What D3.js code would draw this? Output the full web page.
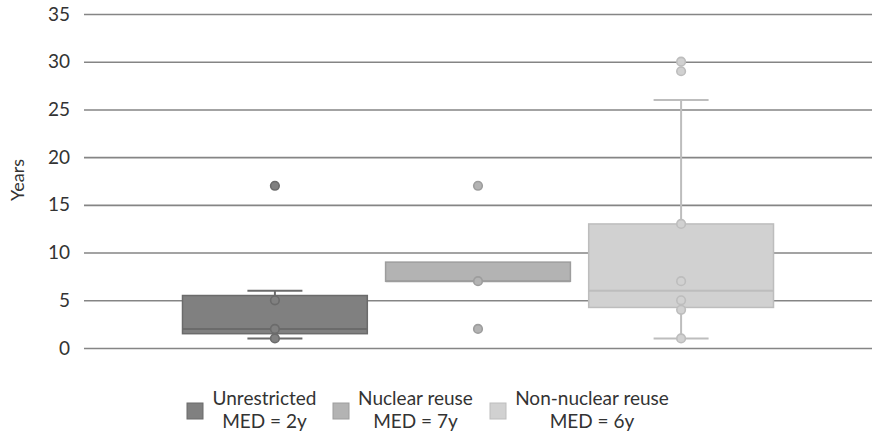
<!DOCTYPE html>
<html>
<head>
<meta charset="utf-8">
<script src="https://cdn.jsdelivr.net/npm/d3@7"></script>
<style>
  html, body { margin: 0; padding: 0; background: #fff; }
  svg { display: block; }
  text { font-family: Lato, "Open Sans", sans-serif; fill: #333333; }
</style>
</head>
<body>
<svg id="chart" width="875" height="439"></svg>
<script>
// ---- data ----
const categories = ["Unrestricted", "Nuclear reuse", "Non-nuclear reuse"];
const medLabels = ["MED = 2y", "MED = 7y", "MED = 6y"];
const q1 = [1.5, 7, 4.25];
const median = [2, 7, 6];
const q3 = [5.5, 9, 13];
const whiskerLow = [1, null, 1];
const whiskerHigh = [6, null, 26];
const pointsUnrestricted = [1, 2, 5, 17];
const pointsNuclear = [2, 7, 17];
const pointsNonNuclear = [1, 4, 5, 7, 13, 29, 30];
const yTicks = [0, 5, 10, 15, 20, 25, 30, 35];

const points = [pointsUnrestricted, pointsNuclear, pointsNonNuclear];
const fills = ["#808080", "#b3b3b3", "#d1d1d1"];
const strokes = ["#6b6b6b", "#9d9d9d", "#bdbdbd"];

const svg = d3.select("#chart");
const plotLeft = 84, plotRight = 872, plotTop = 14, plotBottom = 348;

const y = d3.scaleLinear().domain([0, 35]).range([plotBottom, plotTop]);
const x = d3.scalePoint().domain(categories).range([plotLeft, plotRight]).padding(0.94);
const boxW = x.step() * 0.91;
const capW = 55;

// gridlines
const yAxis = d3.axisLeft(y).tickValues(yTicks).tickSize(-(plotRight - plotLeft)).tickPadding(14);
const gAxis = svg.append("g").attr("transform", `translate(${plotLeft},0)`).call(yAxis);
gAxis.select(".domain").remove();
gAxis.selectAll(".tick line").attr("stroke", "#858585").attr("stroke-width", 1.6);
gAxis.selectAll(".tick text").style("font-size", "19px").attr("fill", "#333333");

// axis title
svg.append("text")
  .attr("transform", `translate(24,180) rotate(-90)`)
  .attr("text-anchor", "middle")
  .style("font-size", "18px")
  .text("Years");

// boxes
categories.forEach((c, i) => {
  const cx = x(c);
  const g = svg.append("g");
  if (whiskerLow[i] != null) {
    g.append("line").attr("x1", cx).attr("x2", cx).attr("y1", y(whiskerHigh[i])).attr("y2", y(whiskerLow[i]))
      .attr("stroke", strokes[i]).attr("stroke-width", 2);
    [whiskerLow[i], whiskerHigh[i]].forEach(v => {
      g.append("line").attr("x1", cx - capW / 2).attr("x2", cx + capW / 2).attr("y1", y(v)).attr("y2", y(v))
        .attr("stroke", strokes[i]).attr("stroke-width", 2);
    });
  }
  g.append("rect")
    .attr("x", cx - boxW / 2).attr("width", boxW)
    .attr("y", y(q3[i])).attr("height", y(q1[i]) - y(q3[i]))
    .attr("fill", fills[i]).attr("stroke", strokes[i]).attr("stroke-width", 1.5);
  g.append("line").attr("x1", cx - boxW / 2).attr("x2", cx + boxW / 2).attr("y1", y(median[i])).attr("y2", y(median[i]))
    .attr("stroke", strokes[i]).attr("stroke-width", 2);
  points[i].forEach(v => {
    g.append("circle").attr("cx", cx).attr("cy", y(v)).attr("r", 4.3)
      .attr("fill", fills[i]).attr("stroke", strokes[i]).attr("stroke-width", 1.6);
  });
});

// legend
const legendSq = [187, 333, 490];
const legendCx = [264.5, 415.5, 592];
categories.forEach((c, i) => {
  svg.append("rect").attr("x", legendSq[i]).attr("y", 403).attr("width", 16).attr("height", 16)
    .attr("fill", fills[i]).attr("stroke", strokes[i]).attr("stroke-width", 1);
  svg.append("text").attr("x", legendCx[i]).attr("y", 405).attr("text-anchor", "middle")
    .style("font-size", "19px").text(c);
  svg.append("text").attr("x", legendCx[i]).attr("y", 428).attr("text-anchor", "middle")
    .style("font-size", "19px").text(medLabels[i]);
});
</script>
</body>
</html>
